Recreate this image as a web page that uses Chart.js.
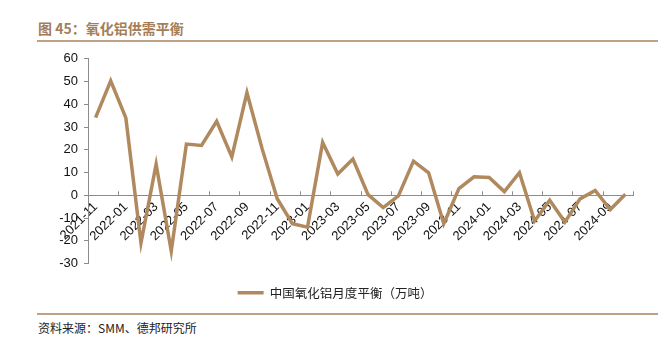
<!DOCTYPE html>
<html lang="zh-CN">
<head>
<meta charset="utf-8">
<title>氧化铝供需平衡</title>
<script src="https://cdn.jsdelivr.net/npm/chart.js@4/dist/chart.umd.min.js"></script>
<style>
  html, body { margin: 0; padding: 0; background: #fff; }
  body { width: 666px; height: 339px; position: relative; overflow: hidden; }
  #title {
    position: absolute; left: 38px; top: 18px;
    font: bold 14px "Noto Sans CJK SC", "Liberation Sans", sans-serif;
    color: #a37e58; white-space: nowrap;
  }
  .rule { position: absolute; left: 37px; width: 621px; height: 2px; background: #bfa285; }
  #ruleTop { top: 40px; }
  #ruleBottom { top: 313px; }
  #source {
    position: absolute; left: 38px; top: 319px;
    font: 12px "Noto Sans CJK SC", "Liberation Sans", sans-serif;
    color: #222; white-space: nowrap;
  }
  #wrap { position: absolute; left: 37px; top: 45px; width: 629px; height: 264px; }
</style>
</head>
<body>
<div id="title">图 45：氧化铝供需平衡</div>
<div class="rule" id="ruleTop"></div>
<div id="wrap"><canvas id="chart"></canvas></div>
<div class="rule" id="ruleBottom"></div>
<div id="source">资料来源：SMM、德邦研究所</div>
<script>
// Monthly alumina balance, Nov 2021 – Oct 2024 (10k tonnes)
const months = [
  '2021-11','2021-12',
  '2022-01','2022-02','2022-03','2022-04','2022-05','2022-06',
  '2022-07','2022-08','2022-09','2022-10','2022-11','2022-12',
  '2023-01','2023-02','2023-03','2023-04','2023-05','2023-06',
  '2023-07','2023-08','2023-09','2023-10','2023-11','2023-12',
  '2024-01','2024-02','2024-03','2024-04','2024-05','2024-06',
  '2024-07','2024-08','2024-09','2024-10'
];
const balance = [
  34.1, 50.3,
  34.0, -21.0, 13.7, -24.5, 22.5, 21.9,
  32.5, 16.9, 45.1, 20.5, -1.5, -12.5,
  -14.0, 23.2, 9.3, 15.9, 0.3, -5.4,
  -0.3, 15.0, 9.9, -12.5, 2.9, 8.1,
  7.8, 1.6, 9.9, -11.3, -2.2, -11.8,
  -1.6, 2.1, -6.3, 0.4
];
const seriesName = '中国氧化铝月度平衡（万吨）';
const yTicks = { min: -30, max: 60, step: 10 };

const lineColor = '#b08a5e';
const axisColor = '#8c8c8c';

// Short upward tick marks on the zero axis, at every second month boundary
const boundaryTicks = {
  id: 'boundaryTicks',
  afterDatasetsDraw(chart) {
    const xs = chart.scales.x, ys = chart.scales.y;
    const y0 = ys.getPixelForValue(0);
    const half = (xs.getPixelForValue(1) - xs.getPixelForValue(0)) / 2;
    const ctx = chart.ctx;
    ctx.save();
    ctx.strokeStyle = axisColor;
    ctx.lineWidth = 1;
    ctx.beginPath();
    for (let i = 2; i <= months.length; i += 2) {
      const x = Math.round(xs.getPixelForValue(i - 1) + half) + 0.5;
      ctx.moveTo(x, y0);
      ctx.lineTo(x, y0 - 4);
    }
    ctx.stroke();
    ctx.restore();
  }
};

Chart.defaults.font.family = '"Liberation Sans", Arial, sans-serif';
Chart.defaults.color = '#111';

new Chart(document.getElementById('chart'), {
  type: 'line',
  data: {
    labels: months,
    datasets: [{
      label: seriesName,
      data: balance,
      borderColor: lineColor,
      backgroundColor: lineColor,
      borderWidth: 3.5,
      pointRadius: 0,
      tension: 0,
      borderJoinStyle: 'miter'
    }]
  },
  options: {
    responsive: true,
    maintainAspectRatio: false,
    animation: false,
    layout: { padding: { top: 13, right: 33, left: 0, bottom: 0 } },
    scales: {
      x: {
        type: 'category',
        offset: true,
        position: { y: 0 },
        afterFit(scale) { scale.height = 0; },
        grid: { drawOnChartArea: false, drawTicks: false },
        border: { display: true, color: axisColor, width: 1 },
        ticks: {
          autoSkip: false,
          minRotation: 45,
          maxRotation: 45,
          padding: 4,
          font: { size: 13 },
          callback(value, index) { return index % 2 === 0 ? months[index] : ''; }
        }
      },
      y: {
        min: yTicks.min,
        max: yTicks.max,
        afterFit(scale) { scale.width = 51; },
        grid: { drawOnChartArea: false, drawTicks: true, tickLength: 4, color: axisColor },
        border: { display: true, color: axisColor, width: 1 },
        ticks: { stepSize: yTicks.step, padding: 6, font: { size: 13 } }
      }
    },
    plugins: {
      legend: {
        position: 'bottom',
        labels: {
          usePointStyle: true,
          pointStyle: 'line',
          pointStyleWidth: 26,
          padding: 23,
          color: '#222',
          font: { size: 12.5, family: '"Noto Sans CJK SC", sans-serif' }
        }
      },
      tooltip: { enabled: false }
    }
  },
  plugins: [boundaryTicks]
});
</script>
</body>
</html>
